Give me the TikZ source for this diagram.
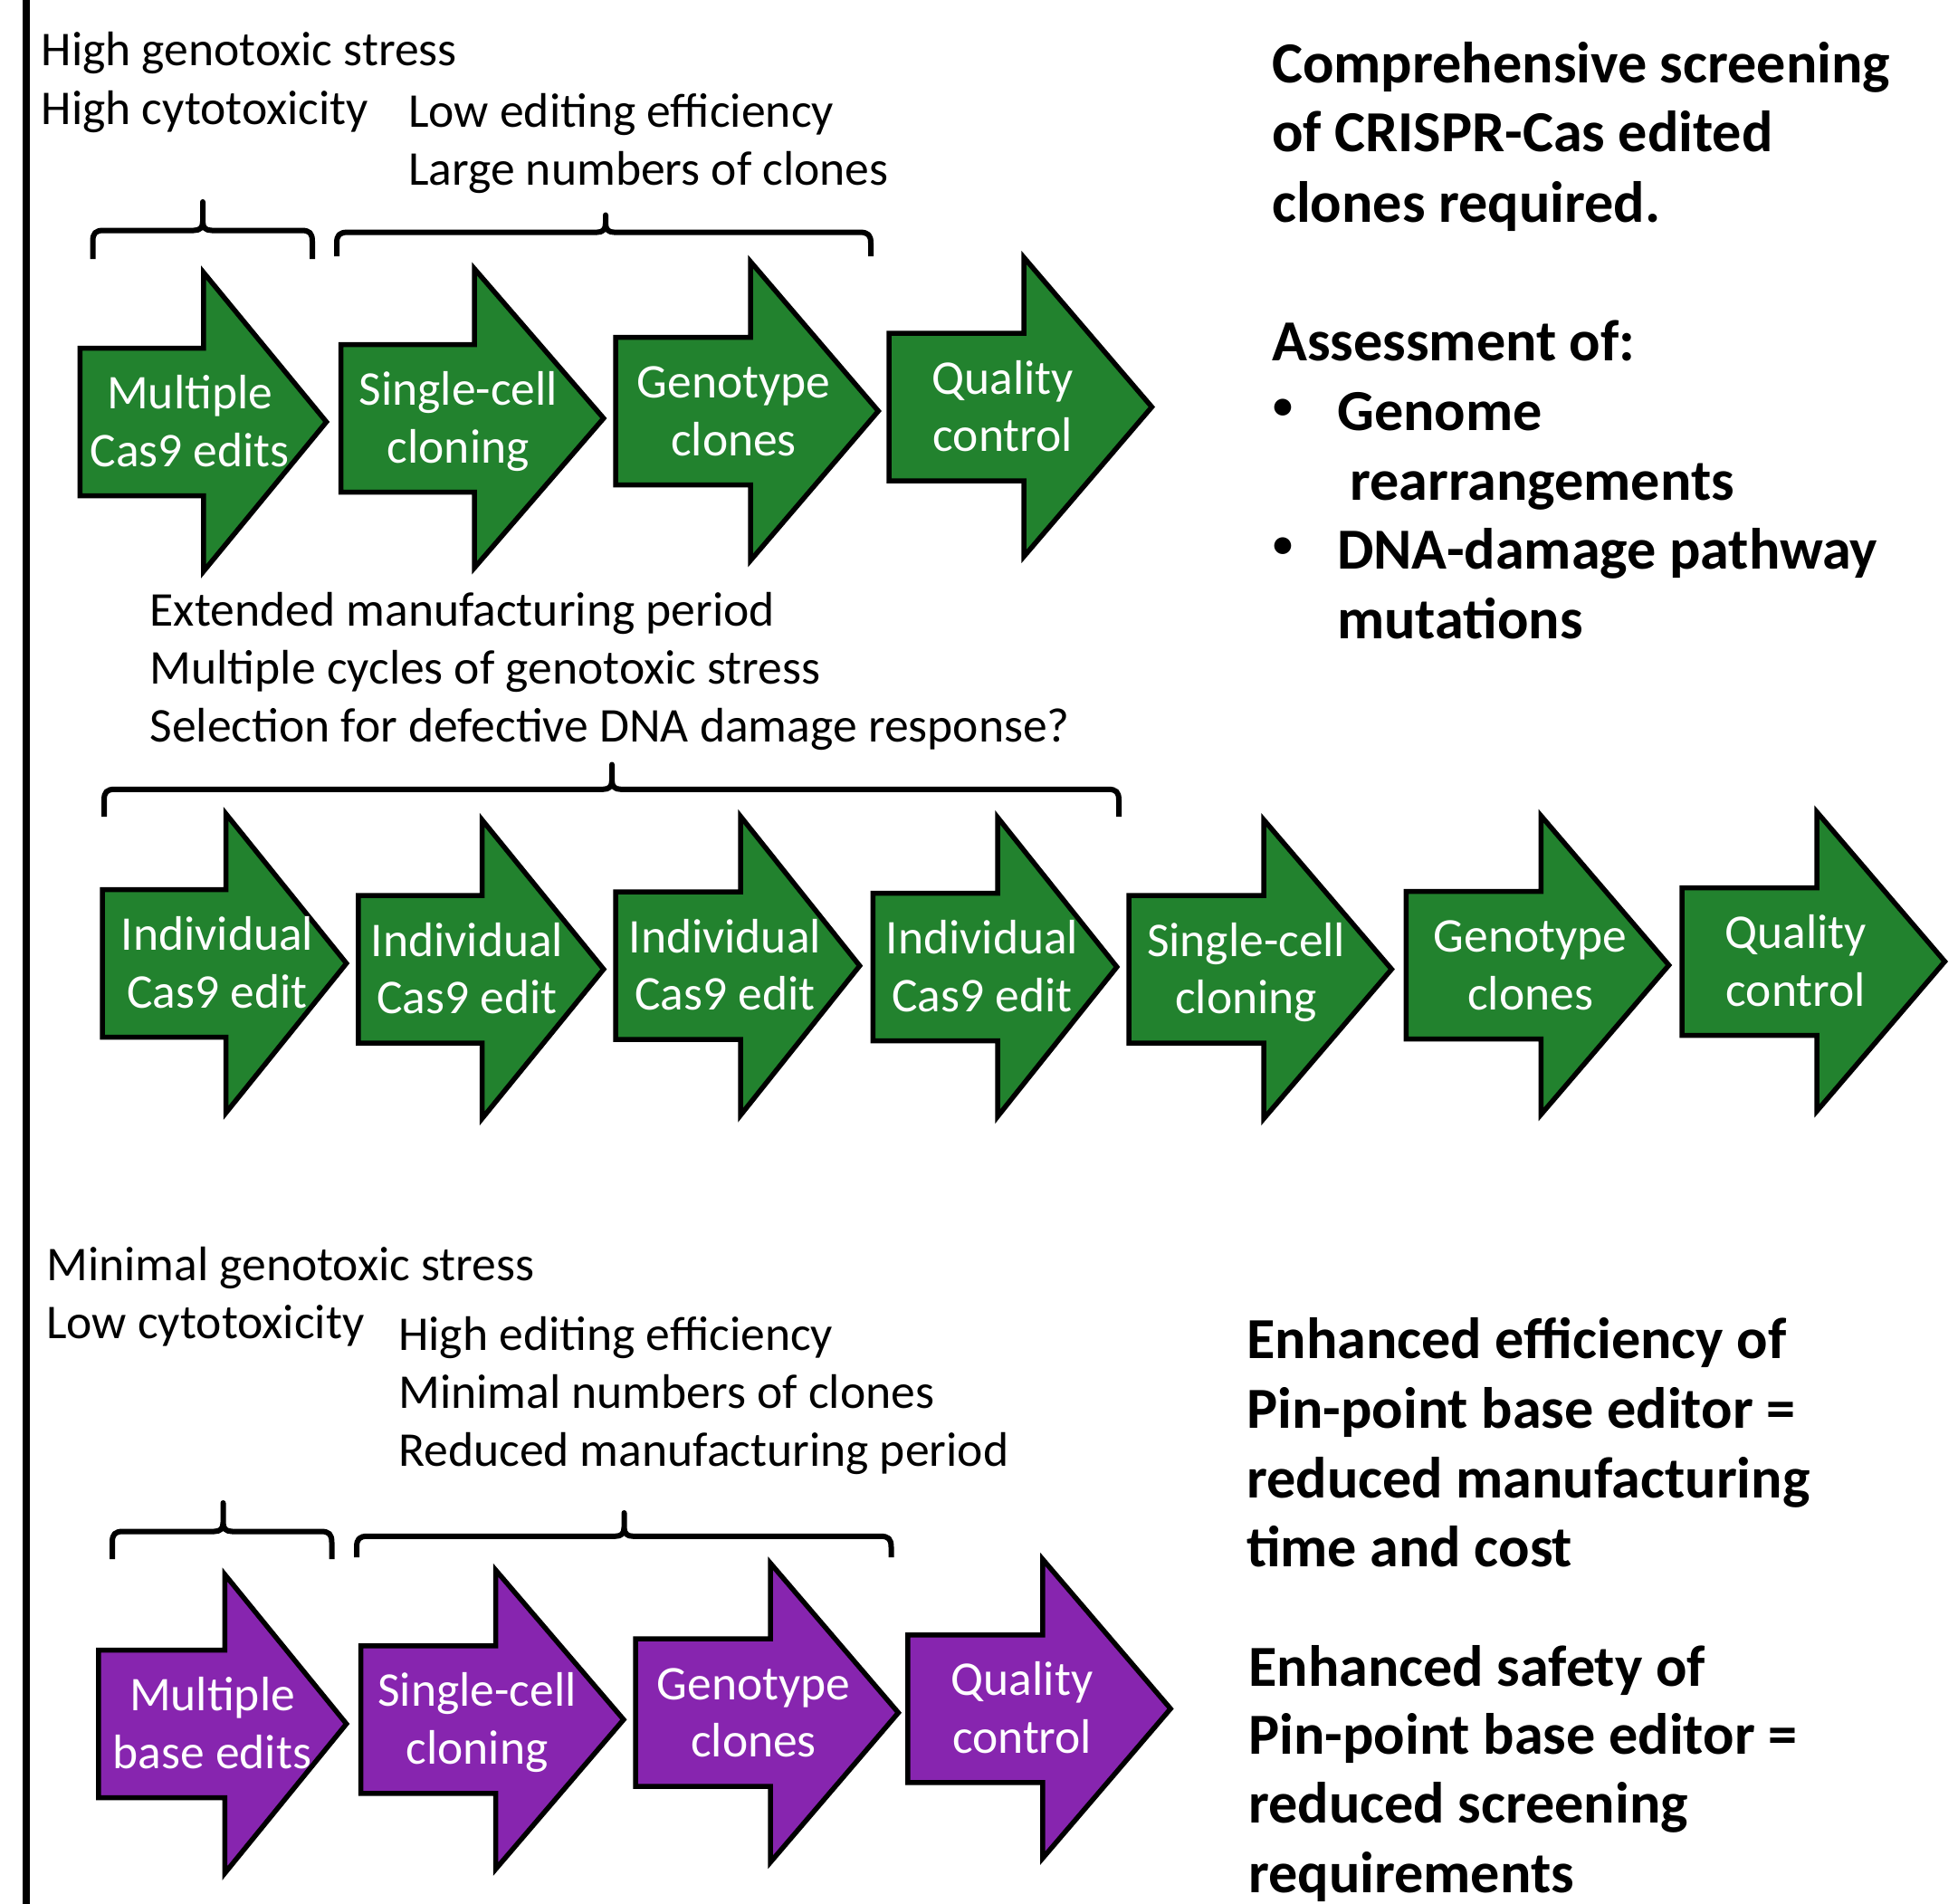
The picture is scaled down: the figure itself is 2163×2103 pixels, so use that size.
\documentclass[tikz,border=0pt]{standalone}
\usepackage{fontspec}
\setmainfont{Carlito}
\definecolor{cgreen}{RGB}{34,130,46}
\definecolor{cpurple}{RGB}{135,37,175}
\tikzset{
  greenarrow/.style={draw=black, fill=cgreen, line width=5.5pt, line join=miter},
  purplearrow/.style={draw=black, fill=cpurple, line width=5.5pt, line join=miter},
  atext/.style={anchor=base, text=white, inner sep=0pt, font=\fontsize{53.5}{63.5}\selectfont},
  ltext/.style={anchor=base west, text=black, inner sep=0pt, font=\fontsize{53.6}{64}\selectfont},
  btext/.style={anchor=base west, text=black, inner sep=0pt, font=\fontsize{64.2}{76.5}\selectfont\bfseries},
  bullettext/.style={anchor=center, text=black, inner sep=0pt, font=\fontsize{44}{50}\selectfont\bfseries},
  bracestyle/.style={draw=black, line width=6pt, line join=round},
}
% #1 style, #2 name, #3 left, #4 neck, #5 tip, #6 centre y, #7 text x, #8 line 1, #9 line 2
\newcommand{\procarrow}[9]{%
  \draw[#1] (#3+2.75,#6-81.5) -- (#4,#6-81.5) -- (#4,#6-165) -- (#5-3.6,#6)
     -- (#4,#6+165) -- (#4,#6+81.5) -- (#3+2.75,#6+81.5) -- cycle;
  \node[atext] (#2a) at (#7,#6-14.5) {#8};
  \node[atext] (#2b) at (#7,#6+49) {#9};
}
% #1 left x, #2 right x, #3 middle x, #4 bar y, #5 tip y, #6 end y
\newcommand{\hbracket}[6]{%
  \draw[bracestyle] (#1,#6) -- (#1,#4+12) .. controls (#1,#4+3) and (#1+3,#4) .. (#1+12,#4)
    -- (#3-10,#4) .. controls (#3-3,#4) and (#3,#4-3) .. (#3,#4-10) -- (#3,#5)
    -- (#3,#4-10) .. controls (#3,#4-3) and (#3+3,#4) .. (#3+10,#4)
    -- (#2-12,#4) .. controls (#2-3,#4) and (#2,#4+3) .. (#2,#4+12) -- (#2,#6);
}
\begin{document}
\begin{tikzpicture}[x=1pt,y=-1pt]
\useasboundingbox (0,0) rectangle (2163,2103);
\fill[white] (0,0) rectangle (2163,2103);
% left vertical rule
\draw[line width=8pt] (29,0) -- (29,2103);

% ---------- row 1 ----------
\procarrow{greenarrow}{a1}{85.5}{224.9}{364.2}{466}{209.7}{Multiple}{Cas9 edits}
\procarrow{greenarrow}{a2}{373.8}{524.2}{670.4}{462}{506.3}{Single-cell}{cloning}
\procarrow{greenarrow}{a3}{677.3}{829.1}{973.9}{454}{810.5}{Genotype}{clones}
\procarrow{greenarrow}{a4}{979.4}{1131.2}{1276.0}{449.5}{1107.7}{Quality}{control}

\hbracket{102.5}{345}{224}{254.5}{223}{286}
\hbracket{372}{962}{669}{256.6}{237.5}{283}

\node[ltext] (t1a) at (45.5,73) {High genotoxic stress};
\node[ltext] (t1b) at (45.5,137.5) {High cytotoxicity};
\node[ltext] (t2a) at (451,140.7) {Low editing efficiency};
\node[ltext] (t2b) at (451,204.3) {Large numbers of clones};

% ---------- row 2 ----------
\procarrow{greenarrow}{b1}{110.4}{249.7}{386.3}{1064}{240}{Individual}{Cas9 edit}
\procarrow{greenarrow}{b2}{393.2}{532.5}{670.4}{1070.5}{516}{Individual}{Cas9 edit}
\procarrow{greenarrow}{b3}{677.3}{818.1}{953.3}{1066.7}{800.8}{Individual}{Cas9 edit}
\procarrow{greenarrow}{b4}{961.5}{1102.2}{1237.4}{1068}{1085}{Individual}{Cas9 edit}
\procarrow{greenarrow}{b5}{1244.3}{1396.1}{1540.9}{1070.5}{1376.7}{Single-cell}{cloning}
\procarrow{greenarrow}{b6}{1550.6}{1702.3}{1847.2}{1066}{1690.6}{Genotype}{clones}
\procarrow{greenarrow}{b7}{1855.4}{2007.2}{2152.0}{1062}{1983.7}{Quality}{control}

\hbracket{115}{1236}{676}{871.8}{844.5}{902}

\node[ltext] (t3a) at (165.5,691) {Extended manufacturing period};
\node[ltext] (t3b) at (165.5,755.5) {Multiple cycles of genotoxic stress};
\node[ltext] (t3c) at (165.5,819.5) {Selection for defective DNA damage response?};

% ---------- row 3 ----------
\procarrow{purplearrow}{c1}{106.2}{248.3}{386.3}{1904}{234.5}{Multiple}{base edits}
\procarrow{purplearrow}{c2}{395.9}{547.7}{692.5}{1899.3}{527}{Single-cell}{cloning}
\procarrow{purplearrow}{c3}{699.4}{851.2}{996.0}{1891.7}{832.5}{Genotype}{clones}
\procarrow{purplearrow}{c4}{1000.1}{1151.9}{1296.7}{1887.3}{1129.1}{Quality}{control}

\hbracket{124}{366.5}{246.5}{1691.5}{1660}{1722}
\hbracket{394}{984.5}{689.5}{1696.8}{1671}{1720}

\node[ltext] (t4a) at (51,1414) {Minimal genotoxic stress};
\node[ltext] (t4b) at (51,1478.8) {Low cytotoxicity};
\node[ltext] (t5a) at (440,1491.2) {High editing efficiency};
\node[ltext] (t5b) at (440,1555) {Minimal numbers of clones};
\node[ltext] (t5c) at (440,1619.5) {Reduced manufacturing period};

% ---------- right column ----------
\node[btext] (r1a) at (1405,92) {Comprehensive screening};
\node[btext] (r1b) at (1405,168) {of CRISPR-Cas edited};
\node[btext] (r1c) at (1405,245) {clones required.};
\node[btext] (r2) at (1405,398) {Assessment of:};
\node[bullettext] (bul1) at (1417,452) {•};
\node[btext] (r2a) at (1477,475) {Genome};
\node[btext] (r2b) at (1491,552) {rearrangements};
\node[bullettext] (bul2) at (1417,605) {•};
\node[btext] (r2c) at (1477,628) {DNA-damage pathway};
\node[btext] (r2d) at (1477,705) {mutations};

\node[btext] (r3a) at (1377,1500) {Enhanced efficiency of};
\node[btext] (r3b) at (1377,1577) {Pin-point base editor =};
\node[btext] (r3c) at (1377,1654) {reduced manufacturing};
\node[btext] (r3d) at (1377,1730.5) {time and cost};

\node[btext] (r4a) at (1379,1862) {Enhanced safety of};
\node[btext] (r4b) at (1379,1937.5) {Pin-point base editor =};
\node[btext] (r4c) at (1379,2013.5) {reduced screening};
\node[btext] (r4d) at (1379,2090) {requirements};
\end{tikzpicture}
\end{document}
